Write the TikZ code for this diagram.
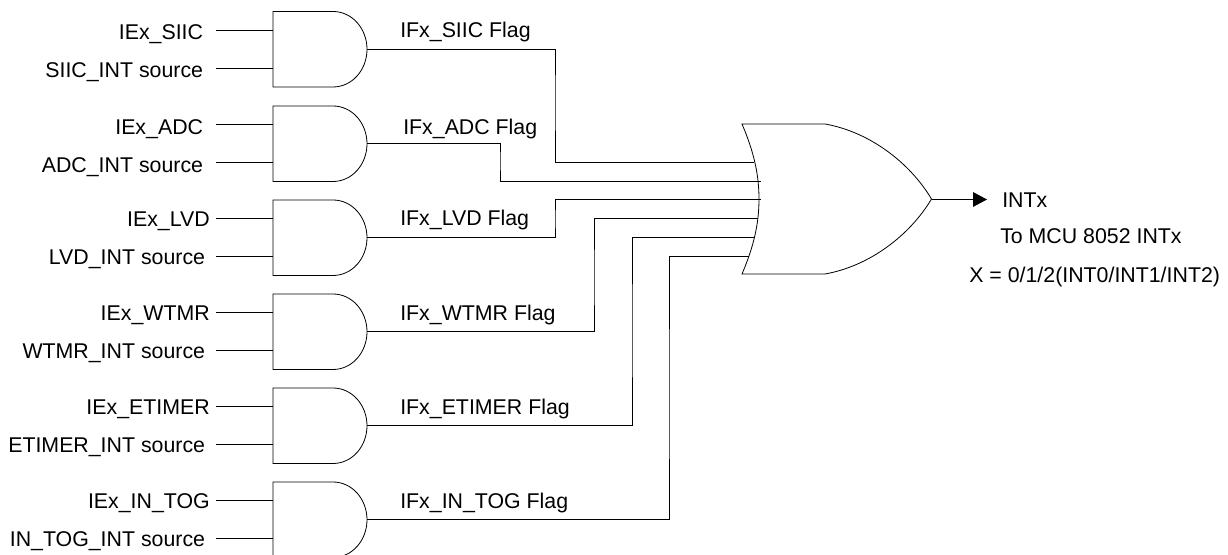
\documentclass[tikz,border=0pt]{standalone}
\usepackage{fontspec}
\setmainfont{Liberation Sans}
\usetikzlibrary{arrows.meta}
\tikzset{
    wire/.style={line width=0.6pt},
    srclabel/.style={anchor=east,inner ysep=0pt,inner xsep=8pt,text height=11.5pt,text depth=0pt},
    lowlabel/.style={srclabel,inner xsep=9.5pt,text height=15pt},
    shortlabel/.style={srclabel,inner xsep=4.5pt},
    flaglabel/.style={anchor=west,inner sep=0pt,text height=11.5pt,text depth=0pt},
    andg/.pic={
        \draw[wire] (0,0) -- (60,0) .. controls (79,0) and (94,17) .. (94,37.75)
            .. controls (94,58.5) and (79,75.5) .. (60,75.5) -- (0,75.5) -- cycle;
        \coordinate (-in1) at (0,18.5);
        \coordinate (-in2) at (0,56.5);
        \coordinate (-out) at (94,37.5);
    },
    org/.pic={
        \draw[wire] (0,0) -- (83,0) .. controls (128,8) and (168,39) .. (189.5,75)
            .. controls (168,111) and (128,142) .. (83,150) -- (0,150)
            .. controls (12,122) and (17,99) .. (17,75)
            .. controls (17,51) and (12,28) .. (0,0) -- cycle;
        \coordinate (-in1) at (12,38);
        \coordinate (-in2) at (19,57);
        \coordinate (-in3) at (19,75.5);
        \coordinate (-in4) at (16,94.5);
        \coordinate (-in5) at (12,113);
        \coordinate (-in6) at (7,132);
        \coordinate (-out) at (189.5,75.5);
    }
}

\begin{document}
\begin{tikzpicture}[x=0.75pt,y=-0.75pt,font=\fontsize{16pt}{19pt}\selectfont]
                \useasboundingbox (0,0) rectangle (1228,555);

                \pic (G1) at (273,11.5) {andg};
                \pic (G2) at (273,106) {andg};
                \pic (G3) at (273,200) {andg};
                \pic (G4) at (273,294) {andg};
                \pic (G5) at (273,388) {andg};
                \pic (G6) at (273,482) {andg};
                \pic (OR) at (742,124) {org};

                \node[lowlabel] (E1) at (216,30) {IEx\_SIIC};
                \node[lowlabel] (S1) at (216,68) {SIIC\_INT source};
                \node[lowlabel] (E2) at (216,124.5) {IEx\_ADC};
                \node[lowlabel] (S2) at (216,162.5) {ADC\_INT source};
                \node[shortlabel] (E3) at (216,218.5) {IEx\_LVD};
                \node[srclabel] (S3) at (216,256.5) {LVD\_INT source};
                \node[shortlabel] (E4) at (216,312.5) {IEx\_WTMR};
                \node[srclabel] (S4) at (216,350.5) {WTMR\_INT source};
                \node[shortlabel] (E5) at (216,406.5) {IEx\_ETIMER};
                \node[srclabel] (S5) at (216,444.5) {ETIMER\_INT source};
                \node[shortlabel] (E6) at (216,500.5) {IEx\_IN\_TOG};
                \node[srclabel] (S6) at (216,538.5) {IN\_TOG\_INT source};

                \node[flaglabel] (F1) at (400,29.5) {IFx\_SIIC Flag};
                \node[flaglabel] (F2) at (403,127) {IFx\_ADC Flag};
                \node[flaglabel] (F3) at (400,217.5) {IFx\_LVD Flag};
                \node[flaglabel] (F4) at (400,312.5) {IFx\_WTMR Flag};
                \node[flaglabel] (F5) at (400,406.5) {IFx\_ETIMER Flag};
                \node[flaglabel] (F6) at (400,500.5) {IFx\_IN\_TOG Flag};

                \node[flaglabel] (I) at (1002,199.5) {INTx};
                \node[flaglabel] (T) at (1000,236) {To MCU 8052 INTx};
                \node[flaglabel] (X) at (969,275) {X = 0/1/2(INT0/INT1/INT2)};

                \coordinate (K1) at (555,100);
                \coordinate (K2) at (500,160);
                \coordinate (K3) at (555,220);
                \coordinate (K4) at (594,280);
                \coordinate (K5) at (632,330);
                \coordinate (K6) at (669,400);
                \coordinate (Y) at (987,199.5);

                \path [wire](E1) edge (G1-in1);
                \path [wire](S1) edge (G1-in2);
                \path [wire](E2) edge (G2-in1);
                \path [wire](S2) edge (G2-in2);
                \path [wire](E3) edge (G3-in1);
                \path [wire](S3) edge (G3-in2);
                \path [wire](E4) edge (G4-in1);
                \path [wire](S4) edge (G4-in2);
                \path [wire](E5) edge (G5-in1);
                \path [wire](S5) edge (G5-in2);
                \path [wire](E6) edge (G6-in1);
                \path [wire](S6) edge (G6-in2);

                \draw [wire](G1-out) -| (K1) |- (OR-in1);
                \draw [wire](G2-out) -| (K2) |- (OR-in2);
                \draw [wire](G3-out) -| (K3) |- (OR-in3);
                \draw [wire](G4-out) -| (K4) |- (OR-in4);
                \draw [wire](G5-out) -| (K5) |- (OR-in5);
                \draw [wire](G6-out) -| (K6) |- (OR-in6);

                \path [wire,-{Triangle[length=10.5pt,width=11pt]}](OR-out) edge (Y);
            \end{tikzpicture}
\end{document}
